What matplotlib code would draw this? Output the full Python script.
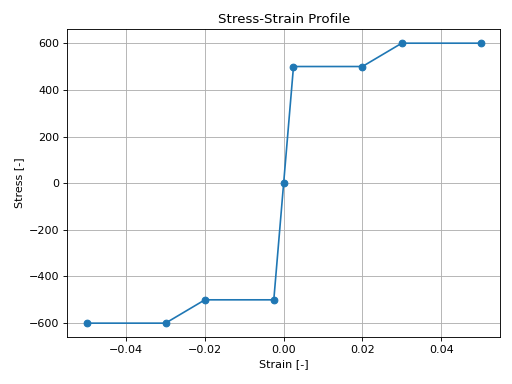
import matplotlib
matplotlib.use("Agg")
import matplotlib.pyplot as plt

strain = [-0.05, -0.03, -0.02, -0.0025, 0.0, 0.0025, 0.02, 0.03, 0.05]
stress = [-600, -600, -500, -500, 0, 500, 500, 600, 600]

fig, ax = plt.subplots(figsize=(6.4, 4.8), dpi=80)
ax.plot(strain, stress, marker='o')
ax.set_title('Stress-Strain Profile')
ax.set_xlabel('Strain [-]')
ax.set_ylabel('Stress [-]')
ax.grid(True)
fig.subplots_adjust(left=0.131, right=0.977, top=0.924, bottom=0.122)
fig.savefig('out.png', dpi=80)
